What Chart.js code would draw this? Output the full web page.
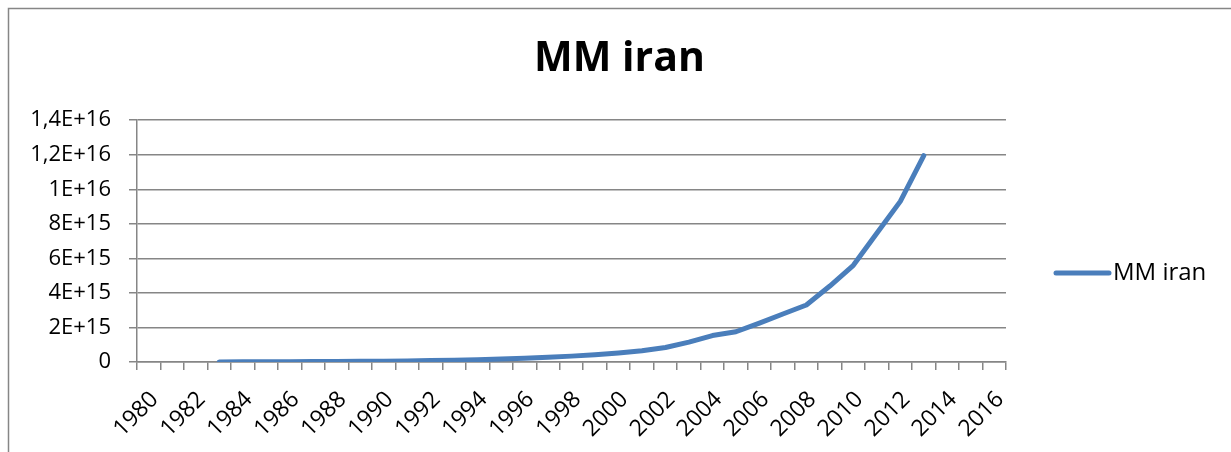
<!DOCTYPE html>
<html>
<head>
<meta charset="utf-8">
<title>MM iran</title>
<script src="https://cdn.jsdelivr.net/npm/chart.js@4.4.1/dist/chart.umd.min.js"></script>
<style>
    html, body { margin: 0; padding: 0; background: #fff; }
    #wrap { position: relative; width: 1231px; height: 452px; }
</style>
</head>
<body>
<div id="wrap"><canvas id="chart"></canvas></div>
<script>
// categories (one per year, label shown every second year)
const years = [
    '1980', '1981', '1982', '1983', '1984', '1985', '1986', '1987', '1988', '1989',
    '1990', '1991', '1992', '1993', '1994', '1995', '1996', '1997', '1998', '1999',
    '2000', '2001', '2002', '2003', '2004', '2005', '2006', '2007', '2008', '2009',
    '2010', '2011', '2012', '2013', '2014', '2015', '2016'
];

// MM iran
const mmIran = [
    null, null, null,
    5e12, 1e13, 1.5e13, 2e13, 2.5e13, 3e13, 4e13,
    5e13, 6e13, 8e13, 1e14, 1.3e14, 1.7e14, 2.1e14, 2.7e14, 3.4e14, 4.2e14,
    5.2e14, 6.5e14, 8.4e14, 1.15e15, 1.53e15, 1.75e15, 2.25e15, 2.78e15, 3.3e15, 4.4e15,
    5.6e15, 7.45e15, 9.3e15, 1.195e16,
    null, null, null
];

const yMin = 0;
const yMax = 1.4e16;
const yStep = 2e15;

const gridGrey = '#868686';
const lineBlue = '#4a7ebb';

Chart.defaults.font.family = "'Open Sans', sans-serif";
Chart.defaults.color = '#000';

// Excel style number: 1,2E+16
function sci(v){
    if(v === 0) return '0';
    let exp = Math.floor(Math.log10(v) + 1e-9);
    let mant = Math.round(v / Math.pow(10, exp) * 10) / 10;
    return String(mant).replace('.', ',') + 'E+' + exp;
}

const framePlugin = {
    id: 'frame',
    beforeDraw(chart){
        const ctx = chart.ctx;
        ctx.save();
        ctx.strokeStyle = gridGrey;
        ctx.lineWidth = 1.5;
        ctx.beginPath();
        ctx.moveTo(8.5, chart.height);
        ctx.lineTo(8.5, 8.5);
        ctx.lineTo(chart.width, 8.5);
        ctx.stroke();
        ctx.restore();
    }
};

// legend drawn in the empty band on the right (kept free by the 'side' scale)
const sideLegend = {
    id: 'sideLegend',
    afterDraw(chart){
        const ctx = chart.ctx;
        const ds = chart.data.datasets[0];
        const x = chart.chartArea.right + 50;
        const y = 273;
        ctx.save();
        ctx.strokeStyle = ds.borderColor;
        ctx.lineWidth = 5;
        ctx.lineCap = 'round';
        ctx.beginPath();
        ctx.moveTo(x, y);
        ctx.lineTo(x + 53, y);
        ctx.stroke();
        ctx.fillStyle = '#000';
        ctx.font = "24px 'Open Sans', sans-serif";
        ctx.textBaseline = 'middle';
        ctx.fillText(ds.label, x + 57, y);
        ctx.restore();
    }
};

new Chart(document.getElementById('chart'), {
    type: 'line',
    data: {
        labels: years,
        datasets: [{
            label: 'MM iran',
            data: mmIran,
            borderColor: lineBlue,
            backgroundColor: lineBlue,
            borderWidth: 5,
            pointRadius: 0,
            tension: 0,
            borderCapStyle: 'round',
            borderJoinStyle: 'round'
        }]
    },
    options: {
        responsive: true,
        maintainAspectRatio: false,
        animation: false,
        layout: {
            padding: { left: 8, top: 8, right: 0, bottom: 0 }
        },
        plugins: {
            legend: { display: false },
            tooltip: { enabled: false },
            title: {
                display: true,
                text: 'MM iran',
                font: { size: 41, weight: 'bold' },
                color: '#000',
                padding: { top: 27, bottom: 36 }
            }
        },
        scales: {
            x: {
                offset: true,
                afterFit: (s) => { s.height = 90; },
                border: { display: true, color: gridGrey, width: 1.5 },
                grid: {
                    offset: true,
                    drawOnChartArea: false,
                    drawTicks: true,
                    tickLength: 8,
                    color: gridGrey,
                    lineWidth: 1.5
                },
                ticks: {
                    autoSkip: false,
                    maxRotation: 45,
                    minRotation: 45,
                    padding: 16,
                    labelOffset: 6,
                    font: { size: 23 },
                    callback: function(v, i){
                        return i % 2 === 0 ? this.getLabelForValue(v) : '';
                    }
                }
            },
            y: {
                min: yMin,
                max: yMax,
                afterFit: (s) => { s.width = 129; },
                border: { display: true, color: gridGrey, width: 1.5 },
                grid: {
                    color: gridGrey,
                    lineWidth: 1.5,
                    drawTicks: true,
                    tickLength: 8
                },
                ticks: {
                    stepSize: yStep,
                    padding: 18,
                    font: { size: 22 },
                    callback: (v) => sci(v)
                }
            },
            side: {
                position: 'right',
                display: true,
                afterFit: (s) => { s.width = 225; },
                border: { display: false },
                grid: { display: false },
                ticks: { display: false }
            }
        }
    },
    plugins: [framePlugin, sideLegend]
});
</script>
</body>
</html>
